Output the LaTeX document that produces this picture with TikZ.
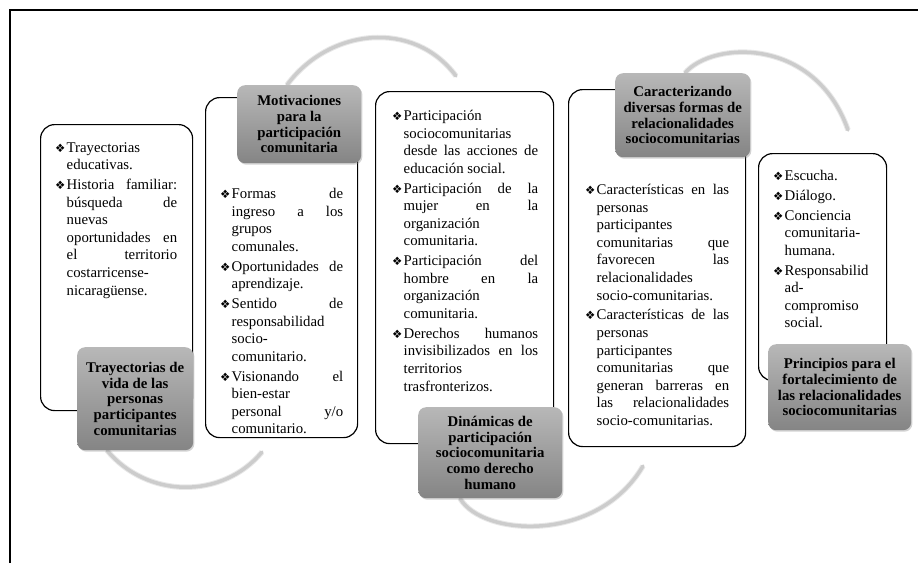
\documentclass[tikz,border=0pt]{standalone}
\usepackage{fontspec}
\setmainfont{Liberation Serif}
\newfontfamily\dejafont{DejaVu Sans}
\usepackage{tikz}
\usetikzlibrary{positioning,shadows,backgrounds}

\newcommand{\bul}{{\dejafont\fontsize{11.5}{11.5}\selectfont ❖}}
\newcommand{\itm}[1]{\noindent\hangindent=11.5pt\hangafter=1\makebox[11.5pt][l]{\bul}#1\par}

\begin{document}
\begin{tikzpicture}[x=1pt, y=-1pt,
  card/.style={draw, line width=1.2pt, rounded corners=14pt, fill=white, anchor=north west, inner sep=0pt},
  ttl/.style={rounded corners=8pt, top color=black!28, bottom color=black!48, anchor=north west, align=center, inner sep=2pt,
    font=\fontsize{14.8}{15.7}\selectfont\bfseries, drop shadow={shadow xshift=1.2pt, shadow yshift=-1.5pt, opacity=.35}},
  txt/.style={inner sep=0pt, align=justify, font=\fontsize{14.8}{17.6}\selectfont,
    execute at begin node={\setlength{\parskip}{2.2pt}\hyphenpenalty=10000\tolerance=10000\hbadness=10000}},
  arcln/.style={draw=black!20, line width=3.5pt, line cap=round, preaction={draw=black!9, line width=5.5pt}}
]
\useasboundingbox (0,0) rectangle (918,563);
\draw[line width=2pt] (10,563) -- (10,10) -- (918,10);

% titles
\node[ttl, minimum width=116pt, minimum height=103pt] (t1) at (77,347)
  {Trayectorias de\\vida de las\\personas\\participantes\\comunitarias};
\node[ttl, minimum width=124pt, minimum height=78pt] (t2) at (237,85)
  {Motivaciones\\para la\\participación\\comunitaria};
\node[ttl, minimum width=144pt, minimum height=91pt] (t3) at (418,407)
  {Dinámicas de\\participación\\sociocomunitaria\\como derecho\\humano};
\node[ttl, minimum width=135pt, minimum height=84pt] (t4) at (615,73)
  {Caracterizando\\diversas formas de\\relacionalidades\\sociocomunitarias};
\node[ttl, minimum width=143pt, minimum height=86pt] (t5) at (768,344)
  {Principios para el\\fortalecimiento de\\las relacionalidades\\sociocomunitarias};

\coordinate (e1) at (262,452);
\coordinate (e2) at (456,76);
\coordinate (e3) at (643,466);
\coordinate (e4) at (848,130);

% arcs and cards go behind the titles
\begin{scope}[on background layer]
\draw[arcln] ([xshift=30pt]t1.south west) .. controls +(40,48) and +(-40,48) .. (e1);
\draw[arcln] ([xshift=50pt]t2.north west) .. controls +(42,-57) and +(-42,-57) .. (e2);
\draw[arcln] ([xshift=42pt]t3.south west) .. controls +(23,39) and +(-45,77) .. (e3);
\draw[arcln] ([xshift=70pt]t4.north west) .. controls +(27,-32) and +(-33,-94) .. (e4);

\node[card, minimum width=152pt, minimum height=286pt] (b1) at (40,124) {};
\node[card, minimum width=152pt, minimum height=340pt] (b2) at (205,97) {};
\node[card, minimum width=178pt, minimum height=352pt] (b3) at (375,91) {};
\node[card, minimum width=177pt, minimum height=357pt] (b4) at (568,89) {};
\node[card, minimum width=128pt, minimum height=227pt] (b5) at (758,153) {};
\end{scope}

\node[txt, text width=122pt, below right=18pt and 15pt of b1.north west] (l1) {%
\itm{Trayectorias\linebreak educativas.}
\itm{Historia familiar:\linebreak búsqueda de\linebreak nuevas\linebreak oportunidades en\linebreak el territorio\linebreak costarricense-\linebreak nicaragüense.}};
\node[txt, text width=123pt, below right=91pt and 15pt of b2.north west] (l2) {%
\itm{Formas de\linebreak ingreso a los\linebreak grupos\linebreak comunales.}
\itm{Oportunidades de\linebreak aprendizaje.}
\itm{Sentido de\linebreak responsabilidad\linebreak socio-\linebreak comunitario.}
\itm{Visionando el\linebreak bien-estar\linebreak personal y/o\linebreak comunitario.}};
\node[txt, text width=146pt, below right=19pt and 17pt of b3.north west] (l3) {%
\itm{Participación\linebreak sociocomunitarias\linebreak desde las acciones de\linebreak educación social.}
\itm{Participación de la\linebreak mujer en la\linebreak organización\linebreak comunitaria.}
\itm{Participación del\linebreak hombre en la\linebreak organización\linebreak comunitaria.}
\itm{Derechos humanos\linebreak invisibilizados en los\linebreak territorios\linebreak trasfronterizos.}};
\node[txt, text width=144pt, below right=95pt and 17pt of b4.north west] (l4) {%
\itm{Características en las\linebreak personas\linebreak participantes\linebreak comunitarias que\linebreak favorecen las\linebreak relacionalidades\linebreak socio-comunitarias.}
\itm{Características de las\linebreak personas\linebreak participantes\linebreak comunitarias que\linebreak generan barreras en\linebreak las relacionalidades\linebreak socio-comunitarias.}};
\node[txt, text width=98pt, below right=17pt and 15pt of b5.north west] (l5) {%
\itm{Escucha.}
\itm{Diálogo.}
\itm{Conciencia\linebreak comunitaria-\linebreak humana.}
\itm{Responsabilid\linebreak ad-\linebreak compromiso\linebreak social.}};
\end{tikzpicture}
\end{document}
